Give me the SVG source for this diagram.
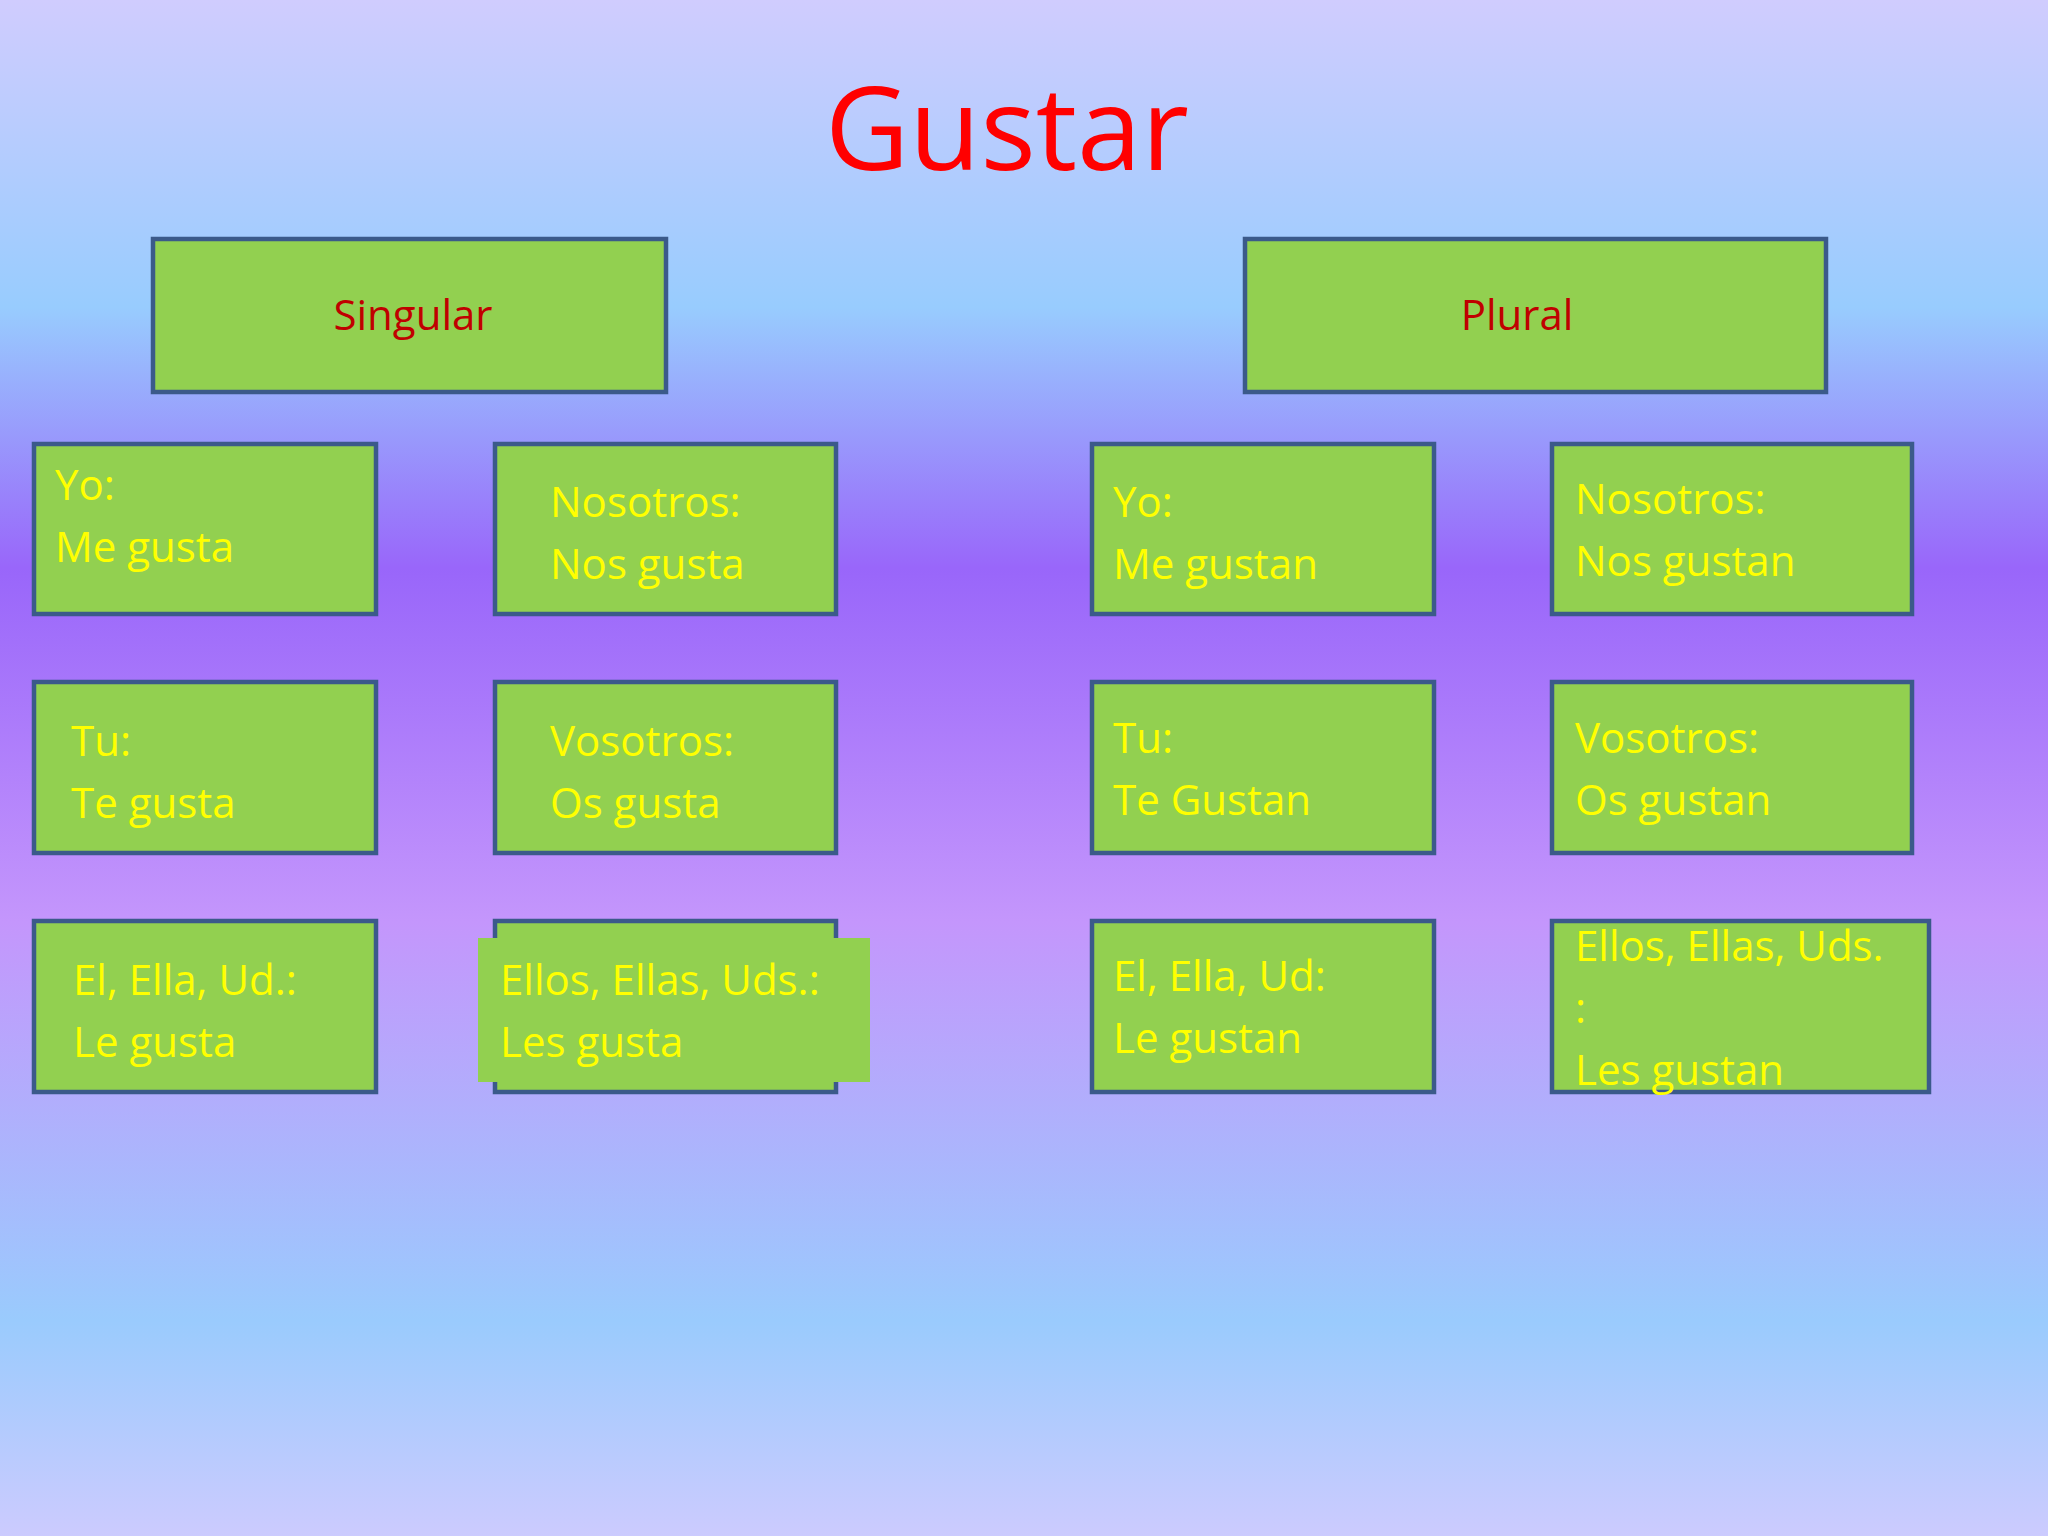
<svg xmlns="http://www.w3.org/2000/svg" width="2048" height="1536" viewBox="0 0 2048 1536">
<defs>
<linearGradient id="bg" x1="0" y1="0" x2="0" y2="1">
<stop offset="0" stop-color="#d0ccfe"/>
<stop offset="0.2" stop-color="#98ccfe"/>
<stop offset="0.37" stop-color="#9966fa"/>
<stop offset="0.6" stop-color="#c496fc"/>
<stop offset="0.86" stop-color="#9acbfd"/>
<stop offset="1" stop-color="#cccbfe"/>
</linearGradient>
</defs>
<style>
.b{fill:#92d050;stroke:#3b5a8a;stroke-width:4.5}
.t{font-family:"Open Sans","Liberation Sans",sans-serif;font-size:42px;fill:#ffff00}
.h{font-family:"Open Sans","Liberation Sans",sans-serif;font-size:42px;fill:#c00000;text-anchor:middle}
</style>
<rect width="2048" height="1536" fill="url(#bg)"/>
<text x="1007" y="170" font-family="Open Sans, Liberation Sans, sans-serif" font-size="116" fill="#ff0000" text-anchor="middle">Gustar</text>
<g id="singular"><rect class="b" x="153" y="239" width="513" height="153"/><text class="h" x="413" y="330">Singular</text></g>
<g id="plural"><rect class="b" x="1245" y="239" width="581" height="153"/><text class="h" x="1517" y="330">Plural</text></g>
<g id="s1"><rect class="b" x="34" y="444" width="342" height="170"/><text class="t" x="55" y="500">Yo:</text><text class="t" x="55" y="562">Me gusta</text></g>
<g id="s2"><rect class="b" x="495" y="444" width="341" height="170"/><text class="t" x="550" y="517">Nosotros:</text><text class="t" x="550" y="579">Nos gusta</text></g>
<g id="s3"><rect class="b" x="34" y="682" width="342" height="171"/><text class="t" x="71" y="756">Tu:</text><text class="t" x="71" y="818">Te gusta</text></g>
<g id="s4"><rect class="b" x="495" y="682" width="341" height="171"/><text class="t" x="550" y="756">Vosotros:</text><text class="t" x="550" y="818">Os gusta</text></g>
<g id="s5"><rect class="b" x="34" y="921" width="342" height="171"/><text class="t" x="73" y="995">El, Ella, Ud.:</text><text class="t" x="73" y="1057">Le gusta</text></g>
<g id="s6"><rect class="b" x="495" y="921" width="341" height="171"/><rect x="478" y="938" width="392" height="144" fill="#92d050"/><text class="t" x="500" y="995">Ellos, Ellas, Uds.:</text><text class="t" x="500" y="1057">Les gusta</text></g>
<g id="p1"><rect class="b" x="1092" y="444" width="342" height="170"/><text class="t" x="1113" y="517">Yo:</text><text class="t" x="1113" y="579">Me gustan</text></g>
<g id="p2"><rect class="b" x="1552" y="444" width="360" height="170"/><text class="t" x="1575" y="514">Nosotros:</text><text class="t" x="1575" y="576">Nos gustan</text></g>
<g id="p3"><rect class="b" x="1092" y="682" width="342" height="171"/><text class="t" x="1113" y="753">Tu:</text><text class="t" x="1113" y="815">Te Gustan</text></g>
<g id="p4"><rect class="b" x="1552" y="682" width="360" height="171"/><text class="t" x="1575" y="753">Vosotros:</text><text class="t" x="1575" y="815">Os gustan</text></g>
<g id="p5"><rect class="b" x="1092" y="921" width="342" height="171"/><text class="t" x="1113" y="991">El, Ella, Ud:</text><text class="t" x="1113" y="1053">Le gustan</text></g>
<g id="p6"><rect class="b" x="1552" y="921" width="377" height="171"/><text class="t" x="1575" y="961">Ellos, Ellas, Uds.</text><text class="t" x="1575" y="1023">:</text><text class="t" x="1575" y="1085">Les gustan</text></g>
</svg>
